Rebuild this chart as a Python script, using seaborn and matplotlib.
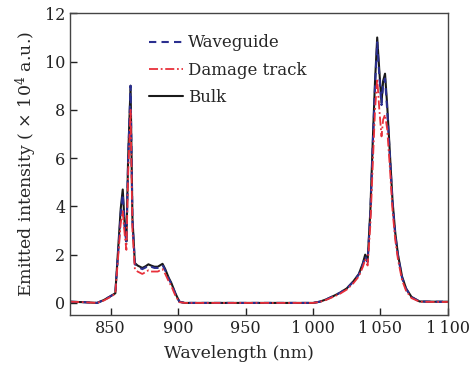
import pandas as pd
import matplotlib
matplotlib.use("Agg")
import matplotlib.pyplot as plt
import seaborn as sns

# data
wavelength = [820, 830, 840, 845, 850, 853.5, 856, 857.5, 859, 860.5,
              861.7, 863, 864.8, 866.2, 868, 870, 873.5, 876, 878, 880,
              882.5, 885, 888.5, 890.5, 893, 895, 898, 901, 905, 950,
              1000, 1005, 1010, 1015, 1020, 1025, 1030, 1034, 1037, 1038.7,
              1040.5, 1042.5, 1044.5, 1046, 1047.6, 1049.2, 1050.8, 1052, 1053.4, 1055,
              1057, 1059, 1061, 1063, 1066, 1069, 1073, 1079, 1090, 1100]

bulk = [0.05, 0.03, 0.0, 0.12, 0.28, 0.4, 2.6, 3.9, 4.7, 3.2,
        2.55, 6.0, 9.0, 3.5, 1.65, 1.55, 1.45, 1.52, 1.6, 1.55,
        1.5, 1.5, 1.62, 1.4, 1.05, 0.83, 0.4, 0.05, 0.0, 0.0,
        0.0, 0.05, 0.15, 0.28, 0.42, 0.6, 0.9, 1.2, 1.65, 2.0,
        1.75, 3.8, 7.0, 9.2, 11.0, 9.6, 8.3, 9.2, 9.5, 8.2,
        6.2, 4.2, 2.9, 2.0, 1.1, 0.6, 0.25, 0.06, 0.05, 0.05]

waveguide = [0.05, 0.03, 0.0, 0.12, 0.28, 0.4, 2.4, 3.7, 4.5, 3.1,
             2.5, 5.9, 9.0, 3.4, 1.6, 1.5, 1.4, 1.47, 1.55, 1.5,
             1.45, 1.45, 1.57, 1.35, 1.0, 0.8, 0.38, 0.05, 0.0, 0.0,
             0.0, 0.05, 0.15, 0.28, 0.42, 0.6, 0.88, 1.18, 1.6, 1.95,
             1.7, 3.7, 6.8, 9.0, 10.8, 9.4, 8.2, 9.1, 9.3, 8.0,
             6.1, 4.1, 2.8, 1.95, 1.05, 0.58, 0.24, 0.06, 0.05, 0.05]

damage = [0.05, 0.03, 0.0, 0.1, 0.25, 0.38, 2.2, 3.3, 3.8, 2.8,
          2.2, 5.3, 8.0, 3.0, 1.4, 1.3, 1.2, 1.28, 1.35, 1.3,
          1.3, 1.3, 1.4, 1.2, 0.9, 0.7, 0.3, 0.03, 0.0, 0.0,
          0.0, 0.04, 0.13, 0.25, 0.38, 0.55, 0.82, 1.1, 1.5, 1.8,
          1.55, 3.2, 6.0, 8.0, 9.3, 8.0, 6.9, 7.6, 7.8, 7.2,
          5.6, 3.8, 2.6, 1.8, 0.95, 0.5, 0.2, 0.05, 0.04, 0.04]

xticks = [850, 900, 950, 1000, 1050, 1100]
xtick_labels = ["850", "900", "950", "1\u2009000", "1\u2009050", "1\u2009100"]
yticks = [0, 2, 4, 6, 8, 10, 12]

df = pd.DataFrame({"Wavelength": wavelength, "Bulk": bulk,
                   "Waveguide": waveguide, "Damage track": damage})

sns.set_style("ticks")
plt.rcParams["font.family"] = ["DejaVu Serif"]
plt.rcParams["mathtext.fontset"] = "dejavuserif"

fig = plt.figure(figsize=(4.77, 3.71), dpi=100)
ax = fig.add_axes([0.147, 0.151, 0.792, 0.813])

# draw bulk first, red on top
sns.lineplot(data=df, x="Wavelength", y="Bulk", ax=ax, color="#1a1a1a",
             linewidth=1.5, label="Bulk")
sns.lineplot(data=df, x="Wavelength", y="Waveguide", ax=ax, color="#2b2f8f",
             linewidth=1.5, linestyle=(0, (3.5, 2.5)), label="Waveguide")
sns.lineplot(data=df, x="Wavelength", y="Damage track", ax=ax, color="#e8303a",
             linewidth=1.3, linestyle=(0, (5, 1.5, 1, 1.5)), label="Damage track")

ax.set_xlim(820, 1100)
ax.set_ylim(-0.5, 12)
ax.set_xticks(xticks)
ax.set_xticklabels(xtick_labels)
ax.set_yticks(yticks)
ax.tick_params(direction="in", length=5, width=1, labelsize=11.5, colors="#222222")
for s in ax.spines.values():
    s.set_color("#444444")
    s.set_linewidth(1)

ax.set_xlabel("Wavelength (nm)", fontsize=12.5, labelpad=1)
ax.set_ylabel("Emitted intensity ( $\\times$ 10$^4$ a.u.)", fontsize=12.5, labelpad=4)
ax.xaxis.set_label_coords(0.447, -0.1)

handles, labels = ax.get_legend_handles_labels()
order = [labels.index(n) for n in ["Waveguide", "Damage track", "Bulk"]]
ax.legend([handles[i] for i in order], [labels[i] for i in order],
          loc="upper left", bbox_to_anchor=(0.17, 0.98), frameon=False,
          fontsize=12, handlelength=2.0, handletextpad=0.3, labelspacing=0.62)

fig.savefig("out.png", dpi=100)
